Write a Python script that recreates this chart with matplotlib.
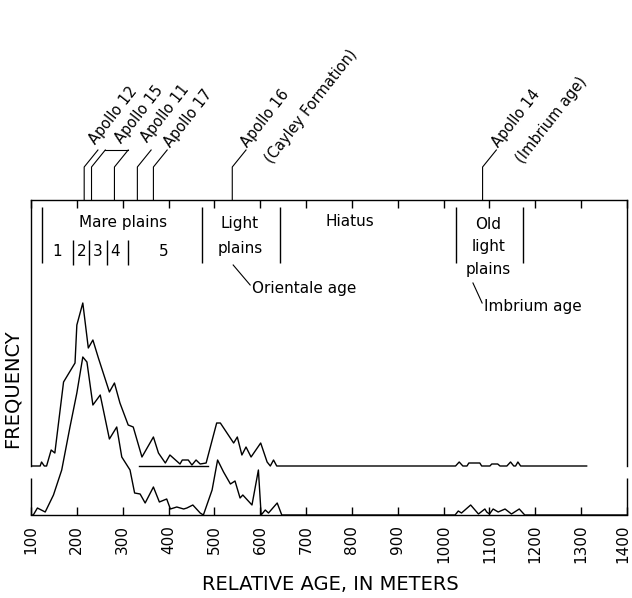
import matplotlib
matplotlib.use("Agg")
import matplotlib.pyplot as plt
from matplotlib.transforms import ScaledTranslation

# relative age (m) vs. frequency
# upper histogram (drawn on its own raised baseline)
upper_age = [100, 120, 123, 129, 134, 144, 152, 171, 196, 200, 213, 225, 235, 247, 271,
             282, 294, 312, 323, 342, 367, 378, 393, 403, 425, 430, 443, 451, 460, 469,
             482, 505, 513, 542, 550, 560, 569, 580, 601, 615, 622, 629, 636,
             1026, 1034, 1042, 1051, 1055, 1079, 1083, 1101, 1105, 1118, 1123, 1138,
             1146, 1153, 1157, 1162, 1168, 1312]
upper_freq = [0, 0, 4, 0, 0, 16, 13, 84, 103, 141, 163, 118, 126, 108, 74,
              83, 63, 41, 39, 9, 29, 13, 3, 11, 2, 6, 6, 1, 6, 2,
              3, 43, 43, 23, 29, 11, 19, 9, 23, 4, 0, 6, 0,
              0, 4, 0, 0, 3, 3, 0, 0, 2, 2, 0, 0,
              4, 0, 0, 4, 0, 0]

# lower histogram (sits on the x axis)
lower_age = [100, 105, 114, 131, 149, 167, 185, 200, 213, 222, 235, 251, 271, 287, 298,
             316, 326, 338, 349, 367, 380, 396, 404, 418, 433, 440, 453, 469, 476, 495,
             507, 520, 535, 545, 556, 562, 582, 596, 602, 611, 618, 637, 647,
             1025, 1032, 1039, 1059, 1076, 1090, 1094, 1100, 1108, 1119, 1134, 1148,
             1165, 1177, 1400]
lower_freq = [0, 0, 7, 3, 20, 45, 88, 122, 158, 153, 110, 120, 76, 88, 58,
              45, 22, 21, 12, 28, 13, 16, 6, 8, 6, 7, 10, 2, 0, 25,
              55, 43, 31, 34, 17, 20, 10, 45, 0, 5, 2, 12, 0,
              0, 4, 2, 10, 1, 6, 3, 1, 6, 3, 6, 1,
              6, 0, 0]

age_ticks = list(range(100, 1401, 100))

# Apollo landing sites (label lines, relative ages of the sampled units)
site_labels = [("Apollo 12", None), ("Apollo 15", None), ("Apollo 11", None),
               ("Apollo 17", None), ("Apollo 16", "(Cayley Formation)"),
               ("Apollo 14", "(Imbrium age)")]
site_ages = [[216], [232, 282], [332], [367], [539], [1085]]
# small nudges of each label off its leader end (pixels)
site_nudge = [(-2, 5), (0, 6), (-3, 7), (3, 2), (2, 2), (2, 2)]

# map-unit boundaries along the top of the chart
unit_edges = [124, 474, 643, 1028, 1174]
mare_edges = [192, 227, 266, 312]

YTOP = 315       # one unit = one pixel of the original
OFFSET = 49      # raised baseline of the upper histogram
LOWER_TOP = 37   # top of the short lower frame
FS = 11

fig = plt.figure(figsize=(6.32, 5.98), dpi=100)
ax = fig.add_axes([31 / 632, 83 / 598, 596 / 632, 315 / 598])
ax.set_xlim(100, 1400)
ax.set_ylim(0, YTOP)

ax.plot(lower_age, lower_freq, color="black", lw=1.0)
ax.plot(upper_age, [f + OFFSET for f in upper_freq], color="black", lw=1.0)
ax.plot([335, 485], [OFFSET, OFFSET], color="black", lw=1.0)

# broken frame: left/right sides split into upper and lower parts
for side in ["left", "right"]:
    ax.spines[side].set_bounds(OFFSET, YTOP)
for s in ax.spines.values():
    s.set_linewidth(1.0)
ax.vlines([100, 1400], 0, LOWER_TOP, colors="black", lw=1.0, clip_on=False)

ax.set_yticks([])
ax.set_xticks(age_ticks)
ax.set_xticklabels([str(t) for t in age_ticks], rotation=90)
ax.tick_params(axis="x", direction="in", top=True, length=6, width=1.0,
               labelsize=FS, pad=7)
# keep the last label inside the figure
last = ax.get_xticklabels()[-1]
last.set_transform(last.get_transform() + ScaledTranslation(-4 / 100, 0, fig.dpi_scale_trans))

# map units
ax.vlines(unit_edges, 252, 308, colors="black", lw=1.0)
ax.vlines(mare_edges, 250, 275, colors="black", lw=1.0)
ax.text(300, 293, "Mare plains", ha="center", va="center", fontsize=FS)
for num, a in zip(["1", "2", "3", "4", "5"], [158, 210, 246, 283, 390]):
    ax.text(a, 264, num, ha="center", va="center", fontsize=FS)
ax.text(556, 279, "Light\nplains", ha="center", va="center", fontsize=FS, linespacing=1.85)
ax.text(796, 293, "Hiatus", ha="center", va="center", fontsize=FS)
ax.text(1098, 268, "Old\nlight\nplains", ha="center", va="center", fontsize=FS,
        linespacing=1.65)

ax.plot([541, 578], [250, 230], color="black", lw=0.8)
ax.text(582, 227, "Orientale age", ha="left", va="center", fontsize=FS)
ax.plot([1064, 1084], [232, 212], color="black", lw=0.8)
ax.text(1088, 208, "Imbrium age", ha="left", va="center", fontsize=FS)

# Apollo site leaders and labels above the frame
KNEE, TOP, DX = 348, 365, 30
for (line1, line2), ages, (nx, ny) in zip(site_labels, site_ages, site_nudge):
    for a in ages:
        ax.plot([a, a, a + DX], [YTOP, KNEE, TOP], color="black", lw=0.8, clip_on=False)
    tx = ages[-1] + DX
    if len(ages) > 1:
        ax.plot([ages[0] + DX, tx], [TOP, TOP], color="black", lw=0.8, clip_on=False)
        tx -= 14
    ax.annotate(line1, xy=(tx, TOP), xytext=(nx, ny), textcoords="offset pixels",
                rotation=52, rotation_mode="anchor", ha="left", va="baseline",
                fontsize=10.5, annotation_clip=False)
    if line2:
        ax.annotate(line2, xy=(tx, TOP), xytext=(nx + 24, ny - 16), textcoords="offset pixels",
                    rotation=52, rotation_mode="anchor", ha="left", va="baseline",
                    fontsize=10.5, annotation_clip=False)

ax.text(-0.032, 0.40, "FREQUENCY", rotation=90, transform=ax.transAxes,
        ha="center", va="center", fontsize=14)
ax.text(0.502, -0.222, "RELATIVE AGE, IN METERS", transform=ax.transAxes,
        ha="center", va="center", fontsize=14)

fig.savefig("out.png", dpi=100)
